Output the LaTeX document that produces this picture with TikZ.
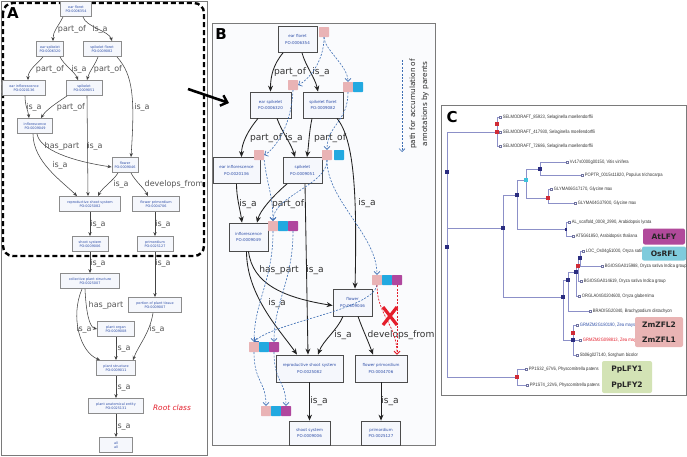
\documentclass[tikz,border=0pt]{standalone}
\usepackage{fontspec}
\setmainfont{DejaVu Sans}
\newfontfamily\lsans{Liberation Sans}
\usetikzlibrary{arrows.meta}
\definecolor{nodeblue}{HTML}{2F4FA8}
\definecolor{boxfill}{HTML}{F5F7FC}
\definecolor{aboxdraw}{HTML}{8C8C8C}
\definecolor{aedgec}{HTML}{444444}
\definecolor{alabc}{HTML}{555555}
\definecolor{bedgec}{HTML}{222222}
\definecolor{blabc}{HTML}{333333}
\definecolor{pinkm}{HTML}{E9B3B5}
\definecolor{cyanm}{HTML}{22A9E0}
\definecolor{purpm}{HTML}{B0479E}
\definecolor{dashblue}{HTML}{3D6EB4}
\definecolor{redx}{HTML}{E41E2B}
\definecolor{clinec}{HTML}{8C90C8}
\definecolor{navyn}{HTML}{2B2D80}
\definecolor{redn}{HTML}{D02B36}
\definecolor{cyann}{HTML}{3EC3DC}
\definecolor{atfill}{HTML}{B14A9B}
\definecolor{osfill}{HTML}{7FCBDC}
\definecolor{zmfill}{HTML}{E9B4B4}
\definecolor{ppfill}{HTML}{D3E3B5}
\definecolor{panelbg}{HTML}{FAFBFD}
\definecolor{framec}{HTML}{7A7A7A}
\newcommand\mkleaf[4]{\node[lsq] (#1) at (#2) {};\node[ltxt,#4] (#1t) at ([xshift=1.2pt]#1.east) {\scalebox{0.86}[1]{#3}};}
\begin{document}
\begin{tikzpicture}[x=1pt,y=-1pt,
 abox/.style={draw=aboxdraw, line width=0.9pt, fill=boxfill, minimum height=15pt, inner sep=0pt, align=center, text=nodeblue, font=\fontsize{3.4}{4}\selectfont},
 bbox/.style={draw=black!70, line width=0.8pt, fill=boxfill, minimum height=26pt, inner sep=0pt, align=center, text=nodeblue, font=\fontsize{4.0}{6.2}\selectfont},
 aedge/.style={draw=aedgec, line width=0.55pt, -{Stealth[length=4pt,width=3.4pt]}},
 alab/.style={text=alabc, inner sep=0pt, font=\fontsize{8}{8}\selectfont},
 bedge/.style={draw=bedgec, line width=0.85pt, -{Stealth[length=6pt,width=5pt]}},
 blab/.style={text=blabc, inner sep=0pt, font=\fontsize{9.1}{9.1}\selectfont},
 mk/.style={minimum size=10pt, inner sep=0pt, rounded corners=0.6pt},
 bpath/.style={draw=dashblue, line width=0.6pt, dash pattern=on 2pt off 1.4pt, -{Straight Barb[length=3pt,width=6pt]}},
 rpath/.style={draw=redx, line width=0.7pt, dash pattern=on 2pt off 1.4pt, -{Straight Barb[length=3pt,width=6pt]}},
 treeline/.style={draw=clinec, line width=0.6pt},
 nsq/.style={minimum width=3.4pt, minimum height=4.4pt, inner sep=0pt},
 lsq/.style={draw=clinec!80!black, line width=0.35pt, fill=white, minimum size=2.6pt, inner sep=0pt},
 ltxt/.style={anchor=west, inner sep=0pt, text=black!80, font=\lsans\fontsize{4.8}{5}\selectfont},
 tag/.style={rounded corners=2pt, inner sep=0pt},
 tagtxt/.style={font=\fontsize{7.5}{8}\selectfont\bfseries, text=black!85, inner sep=0pt},
 panlab/.style={font=\fontsize{15}{15}\selectfont\bfseries, inner sep=0pt}]
\useasboundingbox (0,0) rectangle (687,456);
\fill[white] (0,0) rectangle (687,456);

% ================= Panel A =================
\draw[framec,line width=0.8pt] (1,1) rectangle (207,455);
\draw[black,line width=2.4pt,dash pattern=on 5pt off 3pt,rounded corners=10pt] (3,3) rectangle (204,256);
\node[panlab] (labA) at (13,13) {A};

\node[abox, minimum width=31pt] (a1) at (76,9) {ear floret\\PO:0006354};
\node[abox, minimum width=27pt] (a2) at (50,49) {ear spikelet\\PO:0006320};
\node[abox, minimum width=38pt] (a3) at (102,49) {spikelet floret\\PO:0009082};
\node[abox, minimum width=43pt] (a4) at (24,88) {ear inflorescence\\PO:0020136};
\node[abox, minimum width=36pt] (a5) at (84,88) {spikelet\\PO:0009051};
\node[abox, minimum width=35pt] (a6) at (35,126) {inflorescence\\PO:0009049};
\node[abox, minimum width=26pt] (a7) at (125,165) {flower\\PO:0009046};
\node[abox, minimum width=61pt] (a8) at (90,204) {reproductive shoot system\\PO:0025082};
\node[abox, minimum width=47pt] (a9) at (156,204) {flower primordium\\PO:0004706};
\node[abox, minimum width=36pt] (a10) at (90,244) {shoot system\\PO:0009006};
\node[abox, minimum width=36pt] (a11) at (155,244) {primordium\\PO:0025127};
\node[abox, minimum width=59pt] (a12) at (90,281) {collective plant structure\\PO:0025007};
\node[abox, minimum width=53pt] (a13) at (155,305) {portion of plant tissue\\PO:0009007};
\node[abox, minimum width=37pt] (a14) at (116,329) {plant organ\\PO:0009008};
\node[abox, minimum width=39pt] (a15) at (116,368) {plant structure\\PO:0009011};
\node[abox, minimum width=55pt] (a16) at (116,406) {plant anatomical entity\\PO:0025131};
\node[abox, minimum width=33pt] (a17) at (116,445) {all\\all};

\draw[aedge] ([xshift=-13]a1.south) .. controls +(-5,10) and +(0,-10) .. ([xshift=3]a2.north);
\draw[aedge] ([xshift=7]a1.south) .. controls +(3,10) and +(-3,-10) .. ([xshift=10]a3.north);
\draw[aedge] ([xshift=-7]a2.south) .. controls +(-6,7) and +(0,-10) .. ([xshift=4]a4.north);
\draw[aedge] ([xshift=10]a2.south) .. controls +(4,8) and +(-3,-8) .. ([xshift=-6]a5.north);
\draw[aedge] ([xshift=-4]a3.south) .. controls +(-3,8) and +(2,-8) .. ([xshift=3]a5.north);
\draw[aedge] ([xshift=15]a3.south) .. controls +(16,18) and +(4,-60) .. ([xshift=6]a7.north);
\draw[aedge] ([xshift=1]a4.south) .. controls +(0,10) and +(-1,-8) .. ([xshift=-6]a6.north);
\draw[aedge] ([xshift=-17]a5.south) .. controls +(-12,8) and +(5,-8) .. ([xshift=6]a6.north);
\draw[aedge] ([xshift=2]a6.south) .. controls +(3,16) and +(-40,-6) .. ([yshift=-2]a7.west);
\draw[aedge] ([xshift=3]a5.south) -- ([xshift=-2]a8.north);
\draw[aedge] ([xshift=-2]a6.south) .. controls +(0,28) and +(-14,-14) .. ([xshift=-13]a8.north);
\draw[aedge] ([xshift=-7]a7.south) .. controls +(-5,8) and +(4,-8) .. ([xshift=8]a8.north);
\draw[aedge] ([xshift=6]a7.south) .. controls +(4,8) and +(-4,-8) .. ([xshift=-8]a9.north);
\draw[aedge] (a8) -- (a10);
\draw[aedge] ([xshift=-1]a9.south) -- (a11.north);
\draw[aedge] (a10) -- (a12);
\draw[aedge] (a11) -- (a13);
\draw[aedge] ([xshift=-5]a12.south) .. controls +(1,22) and +(-8,-2) .. (a14.west);
\draw[aedge] ([xshift=-8]a12.south) .. controls +(-12,28) and +(-20,-8) .. ([xshift=-16]a15.north);
\draw[aedge] ([xshift=-2]a13.south) .. controls +(-3,20) and +(5,-14) .. ([xshift=17]a15.north);
\draw[aedge] (a14) -- (a15);
\draw[aedge] (a15) -- (a16);
\draw[aedge] (a16) -- (a17);

\node[alab] (al1) at (72,29) {part\_of};
\node[alab] (al2) at (100,29) {is\_a};
\node[alab] (al3) at (50,69) {part\_of};
\node[alab] (al4) at (79,69) {is\_a};
\node[alab] (al5) at (108,69) {part\_of};
\node[alab] (al6) at (142,107) {is\_a};
\node[alab] (al7) at (34,107) {is\_a};
\node[alab] (al8) at (71,107) {part\_of};
\node[alab] (al9) at (62,146) {has\_part};
\node[alab] (al10) at (95,146) {is\_a};
\node[alab] (al11) at (60,165) {is\_a};
\node[alab] (al12) at (121,184) {is\_a};
\node[alab] (al13) at (174,184) {develops\_from};
\node[alab] (al14) at (98,224) {is\_a};
\node[alab] (al15) at (163,224) {is\_a};
\node[alab] (al16) at (98,263) {is\_a};
\node[alab] (al17) at (163,263) {is\_a};
\node[alab] (al18) at (106,305) {has\_part};
\node[alab] (al19) at (84,329) {is\_a};
\node[alab] (al20) at (157,329) {is\_a};
\node[alab] (al21) at (123,348) {is\_a};
\node[alab] (al22) at (123,387) {is\_a};
\node[alab] (al23) at (123,426) {is\_a};
\node[text=redx, inner sep=0pt, font=\fontsize{7.4}{8}\selectfont\itshape] (root) at (172,408) {Root class};

% ================= Panel B =================
\draw[framec, line width=1pt, fill=panelbg] (212,23) rectangle (435,445);
\node[panlab] (labB) at (221,34) {B};

\node[bbox, minimum width=39pt] (b1) at (297.5,39.5) {ear floret\\PO:0006354};
\node[bbox, minimum width=41pt] (b2) at (270.5,105) {ear spikelet\\PO:0006320};
\node[bbox, minimum width=40pt] (b3) at (323,105) {spikelet floret\\PO:0009082};
\node[bbox, minimum width=47pt] (b4) at (236.5,170.5) {ear inflorescence\\PO:0020136};
\node[bbox, minimum width=39pt] (b5) at (302.5,170.5) {spikelet\\PO:0009051};
\node[bbox, minimum width=39pt, minimum height=28pt] (b6) at (248.5,237) {inflorescence\\PO:0009049};
\node[bbox, minimum width=39pt, minimum height=27pt] (b7) at (352.5,302.5) {flower\\PO:0009046};
\node[bbox, minimum width=67pt, minimum height=27pt] (b8) at (309.5,368.5) {reproductive shoot system\\PO:0025082};
\node[bbox, minimum width=52pt, minimum height=27pt] (b9) at (381,368.5) {flower primordium\\PO:0004706};
\node[bbox, minimum width=41pt, minimum height=24pt] (b10) at (309.5,433) {shoot system\\PO:0009006};
\node[bbox, minimum width=39pt, minimum height=24pt] (b11) at (381,433) {primordium\\PO:0025127};

\draw[bedge] ([xshift=-14.5]b1.south) .. controls +(-10,12) and +(0,-15) .. (b2.north);
\draw[bedge] ([xshift=4.5]b1.south) .. controls +(4,14) and +(-3,-14) .. ([xshift=-5]b3.north);
\draw[bedge] ([xshift=-12.5]b2.south) .. controls +(-10,12) and +(0,-14) .. ([xshift=5]b4.north);
\draw[bedge] ([xshift=6.5]b2.south) .. controls +(5,14) and +(-4,-14) .. ([xshift=-7.5]b5.north);
\draw[bedge] ([xshift=-11]b3.south) .. controls +(-3,14) and +(2,-14) .. ([xshift=4.5]b5.north);
\draw[bedge] ([xshift=14]b3.south) .. controls +(18,22) and +(2,-90) .. ([xshift=2.5]b7.north);
\draw[bedge] (b4.south) .. controls +(0,14) and +(-2,-14) .. ([xshift=-6.5]b6.north);
\draw[bedge] ([xshift=-15.5]b5.south) .. controls +(-14,12) and +(3,-12) .. ([xshift=8.5]b6.north);
\draw[bedge] (b6.south) .. controls +(4,32) and +(-50,-8) .. ([yshift=-3]b7.west);
\draw[bedge] ([xshift=2.5]b5.south) -- ([xshift=-1.5]b8.north);
\draw[bedge] ([xshift=-2]b6.south) .. controls +(0,45) and +(-15,-22) .. ([xshift=-12.5]b8.north);
\draw[bedge] ([xshift=-9.5]b7.south) .. controls +(-6,14) and +(5,-14) .. ([xshift=8.5]b8.north);
\draw[bedge] ([xshift=5.5]b7.south) .. controls +(5,14) and +(-5,-14) .. ([xshift=-8]b9.north);
\draw[bedge] (b8) -- (b10);
\draw[bedge] (b9) -- (b11);

\node[blab] (bl1) at (290,72) {part\_of};
\node[blab] (bl2) at (321,72) {is\_a};
\node[blab] (bl3) at (266,138) {part\_of};
\node[blab] (bl4) at (294,138) {is\_a};
\node[blab] (bl5) at (330,138) {part\_of};
\node[blab] (bl6) at (248,204) {is\_a};
\node[blab] (bl7) at (288,204) {part\_of};
\node[blab] (bl8) at (367,203) {is\_a};
\node[blab] (bl9) at (279,270) {has\_part};
\node[blab] (bl10) at (315,270) {is\_a};
\node[blab] (bl11) at (277,303) {is\_a};
\node[blab] (bl12) at (343,335) {is\_a};
\node[blab] (bl13) at (401,335) {develops\_from};
\node[blab] (bl14) at (319,401) {is\_a};
\node[blab] (bl15) at (390,401) {is\_a};

% annotation markers
\node[mk, fill=pinkm] (mEF) at (324,32) {};
\node[mk, fill=pinkm] (mES) at (293,85) {};
\node[mk, fill=pinkm] (mSFp) at (348,87) {};
\node[mk, fill=cyanm] (mSFc) at (358,87) {};
\node[mk, fill=pinkm] (mEI) at (259,155) {};
\node[mk, fill=pinkm] (mSp) at (327,155) {};
\node[mk, fill=cyanm] (mSc) at (339,155) {};
\node[mk, fill=pinkm] (mIp) at (273,226) {};
\node[mk, fill=cyanm] (mIc) at (283,226) {};
\node[mk, fill=purpm] (mIu) at (293,226) {};
\node[mk, fill=pinkm] (mFp) at (377,280) {};
\node[mk, fill=cyanm] (mFc) at (387,280) {};
\node[mk, fill=purpm] (mFu) at (397,280) {};
\node[mk, fill=pinkm] (mLp) at (254,347) {};
\node[mk, fill=cyanm] (mLc) at (264,347) {};
\node[mk, fill=purpm] (mLu) at (274,347) {};
\node[mk, fill=pinkm] (mBp) at (266,411) {};
\node[mk, fill=cyanm] (mBc) at (276,411) {};
\node[mk, fill=purpm] (mBu) at (286,411) {};

\draw[bpath] (mEF.south) .. controls +(0,25) and +(10,-5) .. (mES.east);
\draw[bpath] (mEF.south) .. controls +(0,12) and +(0,-16) .. (mSFp.north);
\draw[bpath] (mES.south) .. controls +(-2,40) and +(8,-4) .. (mEI.east);
\draw[bpath] (mSFp.south) .. controls +(0,30) and +(0,-25) .. (mSp.north);
\draw[bpath] (mEI.south east) .. controls +(3,25) and +(0,-25) .. (mIp.north);
\draw[bpath] (mSp.south) .. controls +(0,25) and +(0,-25) .. (mIp.north);
\draw[bpath] (mSp.south) .. controls +(0,40) and +(0,-40) .. (mFp.north);
\draw[bpath] (mIp.south) .. controls +(0,50) and +(0,-40) .. (mLp.north);
\draw[bpath] (mIu.south) .. controls +(0,50) and +(0,-40) .. (mLu.north);
\draw[bpath] (mFp.south) .. controls +(-5,25) and +(20,-20) .. (mLp.north);
\draw[bpath] (mLp.south) .. controls +(0,30) and +(0,-25) .. (mBp.north);
\draw[bpath] (mLu.south) .. controls +(0,30) and +(0,-25) .. (mBu.north);

\draw[rpath] (mFp.south) .. controls +(0,30) and +(0,-30) .. ([xshift=16]b9.north);
\draw[rpath] (mFu.south) -- (mFu.south |- b9.north);
\node[inner sep=0pt] (rx) at (390,316) {};
\draw[redx, line width=3.2pt] ([shift={(-7,-9)}]rx.center) -- ([shift={(7,9)}]rx.center);
\draw[redx, line width=3.2pt] ([shift={(7,-9)}]rx.center) -- ([shift={(-7,9)}]rx.center);

% legend
\coordinate (lg1) at (402,60);
\coordinate (lg2) at (402,152);
\draw[bpath] (lg1) -- (lg2);
\node[rotate=90, inner sep=0pt, text=black!85, font=\fontsize{7.3}{8}\selectfont] (lgt1) at (413,104) {path for accumulation of};
\node[rotate=90, inner sep=0pt, text=black!85, font=\fontsize{7.3}{8}\selectfont] (lgt2) at (425,104) {annotations by parents};

% big arrow A -> B
\coordinate (arA) at (188,89);
\coordinate (arB) at (229,103);
\draw[black, line width=2.6pt, -{Straight Barb[length=6pt,width=11pt,line width=2.4pt]}] (arA) -- (arB);

% ================= Panel C =================
\draw[framec, line width=1pt, fill=white] (441,105) rectangle (686,395);
\node[panlab] (labC) at (452,117) {C};

\coordinate (R) at (447,247);
\coordinate (R1) at (447,172);
\coordinate (S) at (497,132);
\coordinate (S2) at (497,124);
\coordinate (ANG) at (503,228);
\coordinate (EUD) at (517,195);
\coordinate (ROS) at (526,180);
\coordinate (VP) at (540,169);
\coordinate (GLY) at (548,198);
\coordinate (ARA) at (566,229);
\coordinate (MON) at (563,297);
\coordinate (BEP) at (568,280);
\coordinate (OR1) at (576,272);
\coordinate (OR2) at (578,266);
\coordinate (OR3) at (580,258);
\coordinate (ZS) at (573,340);
\coordinate (ZEA) at (573,333);
\coordinate (PP) at (517,377);

\mkleaf{L1}{500,117}{SELMODRAFT\_85923, Selaginella moellendorffii}{}
\mkleaf{L2}{500,132}{SELMODRAFT\_417930, Selaginella moellendorffii}{}
\mkleaf{L3}{500,146}{SELMODRAFT\_72686, Selaginella moellendorffii}{}
\mkleaf{L4}{567,162}{Vv17s0000g00150, Vitis vinifera}{}
\mkleaf{L5}{582,175}{POPTR\_0015s11820, Populus trichocarpa}{}
\mkleaf{L6}{551,189}{GLYMA06G17170, Glycine max}{}
\mkleaf{L7}{575,203}{GLYMA04G37900, Glycine max}{}
\mkleaf{L8}{569,222}{AL\_scaffold\_0008\_2990, Arabidopsis lyrata}{}
\mkleaf{L9}{573,236}{AT5G61850, Arabidopsis thaliana}{}
\mkleaf{L10}{583,251}{LOC\_Os04g51000, Oryza sativa}{}
\mkleaf{L11}{602,266}{BGIOSGA015988, Oryza sativa Indica group}{}
\mkleaf{L12}{581,281}{BGIOSGA014619, Oryza sativa Indica group}{}
\mkleaf{L13}{579,296}{ORGLA04G0204600, Oryza glaberrima}{}
\mkleaf{L14}{590,311}{BRADI5G20340, Brachypodium distachyon}{}
\mkleaf{L15}{577,325}{GRMZM2G180190, Zea mays}{text=nodeblue}
\mkleaf{L16}{580,340}{GRMZM2G098813, Zea mays}{text=redx}
\mkleaf{L17}{577,355}{Sb06g027140, Sorghum bicolor}{}
\mkleaf{L18}{526,369}{PP1S32\_67V6, Physcomitrella patens}{}
\mkleaf{L19}{527,385}{PP1S74\_22V6, Physcomitrella patens}{}

% tree lines
\draw[treeline] (R |- S) -- (R |- PP);
\draw[treeline] (R |- S) -- (S);
\draw[treeline] (R |- ANG) -- (ANG);
\draw[treeline] (R |- PP) -- (PP);
\draw[treeline] (S |- L1) -- (S |- L3);
\draw[treeline] (S |- L1) -- (L1.west);
\draw[treeline] (S |- L2) -- (L2.west);
\draw[treeline] (S |- L3) -- (L3.west);
\draw[treeline] (ANG |- EUD) -- (ANG |- MON);
\draw[treeline] (ANG |- EUD) -- (EUD);
\draw[treeline] (ANG |- MON) -- (MON);
\draw[treeline] (EUD |- ROS) -- (EUD |- ARA);
\draw[treeline] (EUD |- ROS) -- (ROS);
\draw[treeline] (EUD |- ARA) -- (ARA);
\draw[treeline] (ROS |- VP) -- (ROS |- GLY);
\draw[treeline] (ROS |- VP) -- (VP);
\draw[treeline] (ROS |- GLY) -- (GLY);
\draw[treeline] (VP |- L4) -- (VP |- L5);
\draw[treeline] (VP |- L4) -- (L4.west);
\draw[treeline] (VP |- L5) -- (L5.west);
\draw[treeline] (GLY |- L6) -- (GLY |- L7);
\draw[treeline] (GLY |- L6) -- (L6.west);
\draw[treeline] (GLY |- L7) -- (L7.west);
\draw[treeline] (ARA |- L8) -- (ARA |- L9);
\draw[treeline] (ARA |- L8) -- (L8.west);
\draw[treeline] (ARA |- L9) -- (L9.west);
\draw[treeline] (MON |- BEP) -- (MON |- ZS);
\draw[treeline] (MON |- BEP) -- (BEP);
\draw[treeline] (MON |- ZS) -- (ZS);
\draw[treeline] (BEP |- OR1) -- (BEP |- L14);
\draw[treeline] (BEP |- OR1) -- (OR1);
\draw[treeline] (BEP |- L14) -- (L14.west);
\draw[treeline] (OR1 |- OR2) -- (OR1 |- L13);
\draw[treeline] (OR1 |- OR2) -- (OR2);
\draw[treeline] (OR1 |- L13) -- (L13.west);
\draw[treeline] (OR2 |- OR3) -- (OR2 |- L12);
\draw[treeline] (OR2 |- OR3) -- (OR3);
\draw[treeline] (OR2 |- L12) -- (L12.west);
\draw[treeline] (OR3 |- L10) -- (OR3 |- L11);
\draw[treeline] (OR3 |- L10) -- (L10.west);
\draw[treeline] (OR3 |- L11) -- (L11.west);
\draw[treeline] (ZEA |- L15) -- (ZS |- L17);
\draw[treeline] (ZEA |- L15) -- (L15.west);
\draw[treeline] (ZEA |- L16) -- (L16.west);
\draw[treeline] (ZS |- L17) -- (L17.west);
\draw[treeline] (PP |- L18) -- (PP |- L19);
\draw[treeline] (PP |- L18) -- (L18.west);
\draw[treeline] (PP |- L19) -- (L19.west);

% internal node squares
\node[nsq, fill=navyn] (nR1) at (R1) {};
\node[nsq, fill=navyn] (nR) at (R) {};
\node[nsq, fill=redn] (nS) at (S) {};
\node[nsq, fill=redn] (nS2) at (S2) {};
\node[nsq, fill=navyn] (nANG) at (ANG) {};
\node[nsq, fill=navyn] (nEUD) at (EUD) {};
\node[nsq, fill=cyann] (nROS) at (ROS) {};
\node[nsq, fill=navyn] (nVP) at (VP) {};
\node[nsq, fill=redn] (nGLY) at (GLY) {};
\node[nsq, fill=navyn, minimum width=2.5pt, minimum height=3pt] (nARA) at (ARA) {};
\node[nsq, fill=navyn] (nMON) at (MON) {};
\node[nsq, fill=navyn] (nBEP) at (BEP) {};
\node[nsq, fill=navyn] (nOR1) at (OR1) {};
\node[nsq, fill=redn] (nOR2) at (OR2) {};
\node[nsq, fill=navyn] (nOR3) at (OR3) {};
\node[nsq, fill=navyn] (nZS) at (ZS) {};
\node[nsq, fill=redn] (nZEA) at (ZEA) {};
\node[nsq, fill=redn] (nPP) at (PP) {};

% gene tags
\node[tag, fill=atfill, minimum width=42pt, minimum height=16pt] (tAt) at (664,236.5) {};
\node[tagtxt] (tAtt) at (tAt) {AtLFY};
\node[tag, fill=osfill, minimum width=44pt, minimum height=14pt] (tOs) at (664,253.5) {};
\node[tagtxt] (tOst) at (tOs) {OsRFL};
\node[tag, fill=zmfill, minimum width=48pt, minimum height=30pt] (tZm) at (659,332) {};
\node[tagtxt] (tZm2) at (659,325) {ZmZFL2};
\node[tagtxt] (tZm1) at (659,340) {ZmZFL1};
\node[tag, fill=ppfill, minimum width=50pt, minimum height=32pt] (tPp) at (627,377) {};
\node[tagtxt] (tPp1) at (627,370) {PpLFY1};
\node[tagtxt] (tPp2) at (627,385) {PpLFY2};
\end{tikzpicture}
\end{document}
